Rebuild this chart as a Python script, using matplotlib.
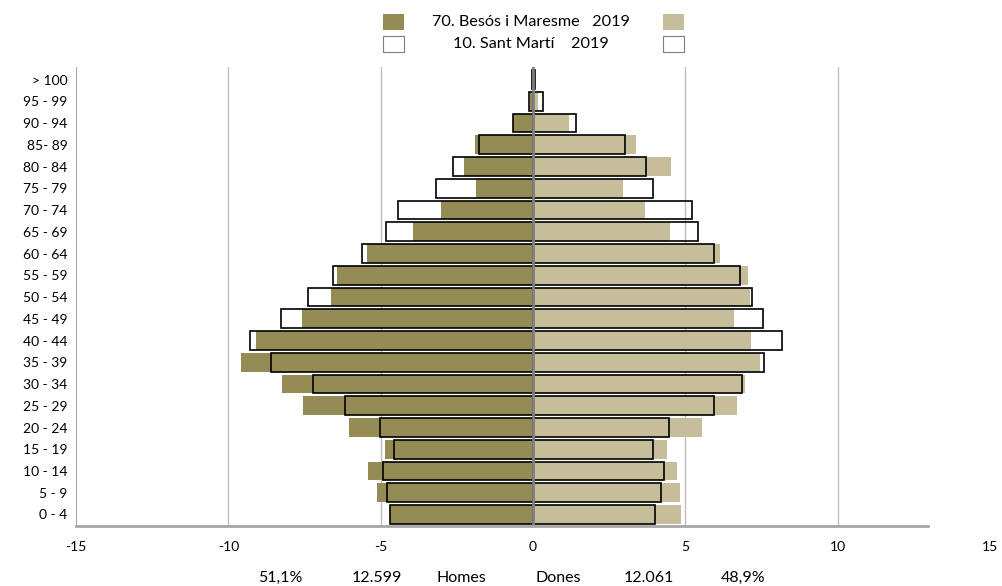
import matplotlib
matplotlib.use('Agg')
import matplotlib.pyplot as plt
from matplotlib.patches import Rectangle

plt.rcParams['font.family'] = ['Lato', 'DejaVu Sans']

# age groups, bottom to top
ages = ['0 - 4', '5 - 9', '10 - 14', '15 - 19', '20 - 24', '25 - 29', '30 - 34',
        '35 - 39', '40 - 44', '45 - 49', '50 - 54', '55 - 59', '60 - 64', '65 - 69',
        '70 - 74', '75 - 79', '80 - 84', '85- 89', '90 - 94', '95 - 99', '> 100']

# 70. Besós i Maresme 2019 (% of each sex)
besos_men = [4.68, 5.13, 5.42, 4.87, 6.03, 7.55, 8.24, 9.60, 9.10, 7.58, 6.63,
             6.42, 5.46, 3.93, 3.01, 1.86, 2.28, 1.90, 0.67, 0.11, 0.02]
besos_women = [4.86, 4.84, 4.74, 4.41, 5.54, 6.70, 6.95, 7.45, 7.15, 6.60, 7.12,
               7.06, 6.13, 4.49, 3.68, 2.97, 4.54, 3.39, 1.19, 0.17, 0.05]

# 10. Sant Martí 2019 (% of each sex)
sm_men = [4.70, 4.79, 4.92, 4.57, 5.02, 6.17, 7.23, 8.59, 9.29, 8.26, 7.39,
          6.56, 5.60, 4.81, 4.43, 3.17, 2.61, 1.76, 0.67, 0.13, 0.03]
sm_women = [4.02, 4.21, 4.29, 3.93, 4.45, 5.95, 6.87, 7.59, 8.16, 7.54, 7.18,
            6.79, 5.95, 5.41, 5.21, 3.94, 3.72, 3.02, 1.42, 0.34, 0.05]

xticks = [-15, -10, -5, 0, 5, 10, 15]
footer = ['51,1%', '12.599', 'Homes', 'Dones', '12.061', '48,9%']

men_color = '#958b55'
women_color = '#c6be9a'
grid_color = '#bfbfbf'

W, H = 1003, 586
fig = plt.figure(figsize=(W / 100, H / 100), dpi=100)
ax = fig.add_axes([76 / W, 1 - 526 / H, (990 - 76) / W, (526 - 67) / H])

y = list(range(len(ages)))
h = 0.86

ax.barh(y, [-v for v in besos_men], height=h, color=men_color, zorder=2)
ax.barh(y, besos_women, height=h, color=women_color, zorder=2)
ax.barh(y, [-v for v in sm_men], height=h, facecolor='none', edgecolor='black',
        linewidth=1.2, zorder=3)
ax.barh(y, sm_women, height=h, facecolor='none', edgecolor='black',
        linewidth=1.2, zorder=3)

# grid lines
for gx in [-10, -5, 5, 10]:
    ax.axvline(gx, color=grid_color, linewidth=1.0, zorder=1)
ax.axvline(0, color='#808080', linewidth=2.0, zorder=4)
ax.axvline(-15, color='#a6a6a6', linewidth=1.5, zorder=1)
ax.plot([-15, 12.97], [-0.53, -0.53], color='#a6a6a6', linewidth=2.0,
        clip_on=False, zorder=5)

ax.set_xlim(-15, 15)
ax.set_ylim(-0.53, len(ages) - 1 + 0.58)
ax.set_xticks(xticks)
ax.set_xticklabels([str(t) for t in xticks], fontsize=10)
ax.set_yticks(y)
ax.set_yticklabels(ages, fontsize=10)
ax.tick_params(length=0)
ax.tick_params(axis='x', pad=11)
ax.tick_params(axis='y', pad=6)
for s in ax.spines.values():
    s.set_visible(False)

# legend built by hand
rows = [('70. Besós i Maresme   2019', men_color, women_color, 22, 'none'),
        ('10. Sant Martí    2019', 'white', 'white', 44, '#7f7f7f')]
for label, c1, c2, yc, ec in rows:
    for xl, c in [(383, c1), (663, c2)]:
        fig.patches.append(Rectangle((xl / W, 1 - (yc + 8) / H), 21 / W, 16 / H,
                                     facecolor=c, edgecolor=ec, linewidth=0.8,
                                     transform=fig.transFigure))
    fig.text(531 / W, 1 - yc / H, label, ha='center', va='center', fontsize=11.7)

# totals under the axis
fx = [280, 377, 461, 558, 649, 743]
for x, t in zip(fx, footer):
    fig.text(x / W, 1 - 578 / H, t, ha='center', va='center', fontsize=11.5)

fig.savefig('out.png', dpi=100)
